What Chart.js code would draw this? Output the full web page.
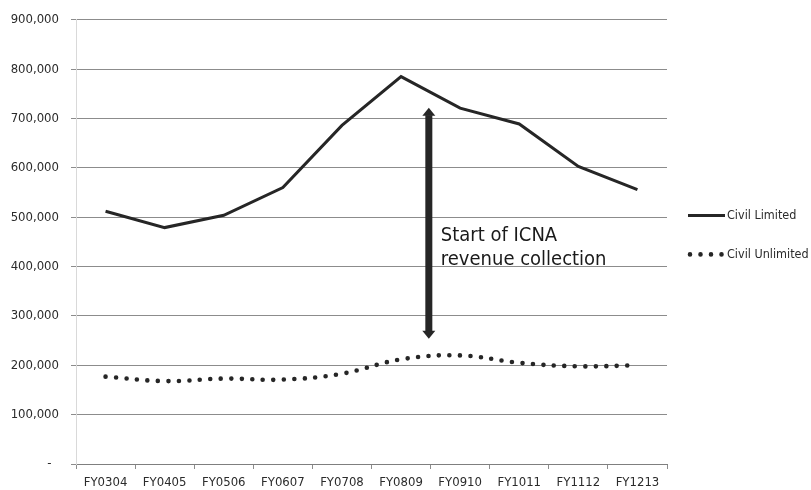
<!DOCTYPE html>
<html>
<head>
<meta charset="utf-8">
<script src="https://cdn.jsdelivr.net/npm/chart.js@4/dist/chart.umd.min.js"></script>
<style>
  html, body { margin: 0; padding: 0; background: #ffffff; }
  #wrap { width: 811px; height: 490px; }
</style>
</head>
<body>
<div id="wrap"><canvas id="chart" width="811" height="490"></canvas></div>
<script>
// Financial years on the category axis
const years = ['FY0304', 'FY0405', 'FY0506', 'FY0607', 'FY0708', 'FY0809', 'FY0910', 'FY1011', 'FY1112', 'FY1213'];

// Annual volumes per series
const civilLimited   = [512000, 479000, 504000, 560000, 686000, 785000, 721000, 689000, 603000, 556000];
const civilUnlimited = [177000, 168000, 173000, 171000, 183000, 212000, 220000, 205000, 198000, 200000];

// Value axis range
const yMin = 0;
const yMax = 900000;
const yStep = 100000;

// Annotation: where ICNA revenue collection begins (between FY0809 and FY0910)
const noteText = ['Start of ICNA', 'revenue collection'];
const noteIndex = 5.47;
const noteTop = 722000;
const noteBottom = 254000;

const FONT = '"DejaVu Sans Condensed", "DejaVu Sans", "Liberation Sans", sans-serif';
const INK = '#262626';
const GRID = '#8c8c8c';
const LABEL = '#2b2b2b';

// Draws the double-headed arrow and its caption
const noteArrow = {
  id: 'noteArrow',
  afterDatasetsDraw(chart) {
    const { ctx, scales: { x, y } } = chart;
    const i0 = Math.floor(noteIndex);
    const px = x.getPixelForValue(i0) + (noteIndex - i0) * (x.getPixelForValue(i0 + 1) - x.getPixelForValue(i0));
    const yt = y.getPixelForValue(noteTop);
    const yb = y.getPixelForValue(noteBottom);
    const head = 8, headHalf = 6.5, shaft = 3.5;
    ctx.save();
    ctx.fillStyle = INK;
    ctx.fillRect(px - shaft, yt + head - 0.5, shaft * 2, (yb - head) - (yt + head) + 1);
    ctx.beginPath();
    ctx.moveTo(px, yt); ctx.lineTo(px + headHalf, yt + head); ctx.lineTo(px - headHalf, yt + head); ctx.closePath();
    ctx.fill();
    ctx.beginPath();
    ctx.moveTo(px, yb); ctx.lineTo(px + headHalf, yb - head); ctx.lineTo(px - headHalf, yb - head); ctx.closePath();
    ctx.fill();
    ctx.font = '20px ' + FONT;
    ctx.fillStyle = '#1a1a1a';
    ctx.textAlign = 'left';
    ctx.textBaseline = 'alphabetic';
    const tx = px + 12;
    const ty = y.getPixelForValue(451000);
    noteText.forEach((line, k) => ctx.fillText(line, tx, ty + k * 24));
    ctx.restore();
  }
};

// Legend to the right of the plot, with line samples matching each series
const sideLegend = {
  id: 'sideLegend',
  afterDraw(chart) {
    const { ctx, chartArea } = chart;
    const mid = (chartArea.top + chartArea.bottom) / 2;
    const x0 = chartArea.right + 21;
    const x1 = x0 + 37;
    const rows = [mid - 26.5, mid + 12.5];
    ctx.save();
    chart.data.datasets.forEach((ds, k) => {
      const ry = rows[k];
      ctx.beginPath();
      ctx.strokeStyle = ds.borderColor;
      ctx.lineWidth = ds.borderWidth;
      ctx.lineCap = ds.borderCapStyle || 'butt';
      ctx.setLineDash(ds.borderDash || []);
      ctx.moveTo(x0 + (ds.borderDash ? 2 : 0), ry);
      ctx.lineTo(x1, ry);
      ctx.stroke();
      ctx.setLineDash([]);
      ctx.font = '12.5px ' + FONT;
      ctx.fillStyle = LABEL;
      ctx.textAlign = 'left';
      ctx.textBaseline = 'middle';
      ctx.fillText(ds.label, x1 + 2, ry);
    });
    ctx.restore();
  }
};

new Chart(document.getElementById('chart'), {
  type: 'line',
  data: {
    labels: years,
    datasets: [
      {
        label: 'Civil Limited',
        data: civilLimited,
        borderColor: INK,
        borderWidth: 3,
        tension: 0,
        pointRadius: 0,
        fill: false
      },
      {
        label: 'Civil Unlimited',
        data: civilUnlimited,
        borderColor: INK,
        borderWidth: 4.6,
        borderDash: [0, 10.5],
        borderCapStyle: 'round',
        tension: 0.4,
        pointRadius: 0,
        fill: false
      }
    ]
  },
  options: {
    responsive: false,
    animation: false,
    devicePixelRatio: 1,
    layout: { padding: { top: 17, right: 144, left: 0, bottom: 0 } },
    plugins: {
      legend: { display: false },
      tooltip: { enabled: false }
    },
    scales: {
      x: {
        offset: true,
        grid: { offset: true, drawOnChartArea: false, drawTicks: true, tickLength: 5, color: GRID },
        border: { color: '#7f7f7f', width: 1 },
        ticks: { font: { family: FONT, size: 13 }, color: LABEL, padding: 6, maxRotation: 0, autoSkip: false },
        afterFit(s) { s.height = 26; }
      },
      y: {
        min: yMin,
        max: yMax,
        grid: { color: GRID, lineWidth: 1, drawTicks: true, tickLength: 5 },
        border: { color: '#d9d9d9', width: 1 },
        ticks: {
          stepSize: yStep,
          font: { family: FONT, size: 13 },
          color: LABEL,
          padding: 12,
          callback: v => v === 0 ? '-  ' : v.toLocaleString('en-US')
        },
        afterFit(s) { s.width = 76; }
      }
    }
  },
  plugins: [noteArrow, sideLegend]
});
</script>
</body>
</html>
